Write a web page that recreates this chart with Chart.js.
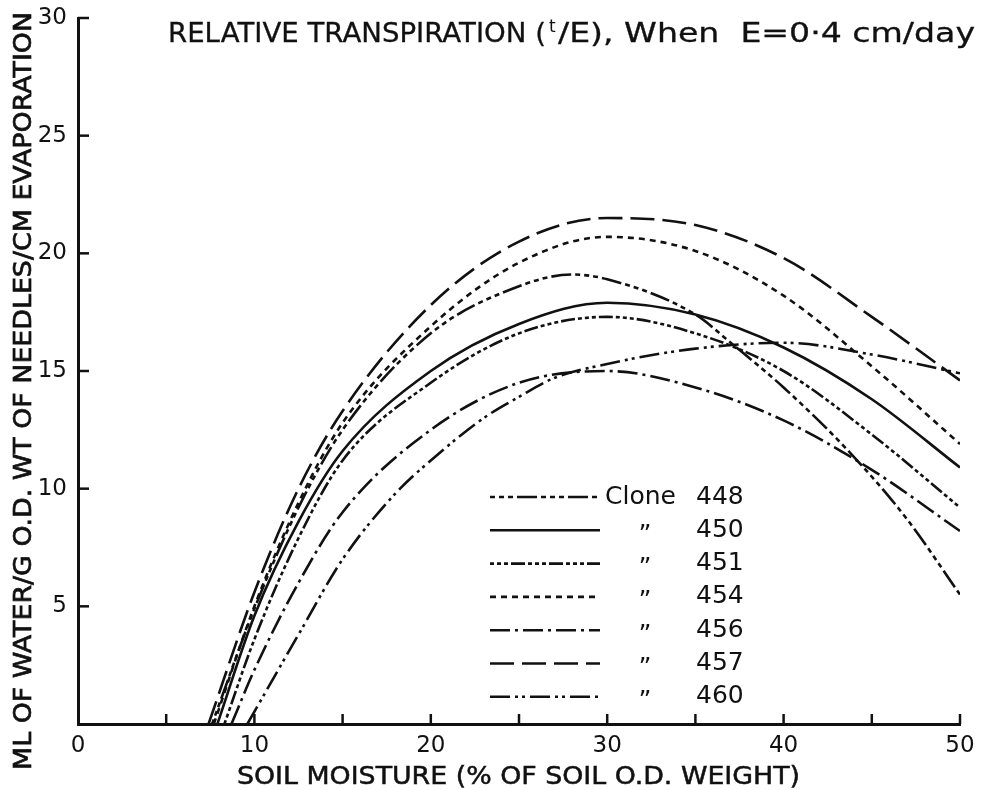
<!DOCTYPE html>
<html>
<head>
<meta charset="utf-8">
<script src="https://cdn.jsdelivr.net/npm/chart.js@4.4.0/dist/chart.umd.min.js"></script>
<style>
html, body { margin: 0; padding: 0; background: #fff; }
#wrap { width: 984px; height: 790px; }
</style>
</head>
<body>
<div id="wrap"><canvas id="graphCanvas" width="984" height="790"></canvas></div>
<script>
// soil moisture (x) and relative transpiration (y)
var clones = ["448", "450", "451", "454", "456", "457", "460"];

var x448 = [7.6, 10, 12.5, 15, 20, 25, 28, 30, 35, 37, 40, 43.8, 47, 50];
var y448 = [0, 4.9, 9.2, 12.5, 16.6, 18.6, 19.1, 18.9, 17.4, 16.2, 14.3, 11.5, 8.7, 5.5];

var x450 = [7.9, 10, 12.5, 15, 20, 25, 30, 35, 40, 45, 50];
var y450 = [0, 4.6, 8.6, 11.6, 15.0, 17.0, 17.9, 17.4, 16.0, 13.8, 10.9];

var x451 = [8.3, 10, 12.5, 15, 20, 25, 30, 35, 40, 45, 50];
var y451 = [0, 3.6, 7.9, 11.2, 14.5, 16.6, 17.3, 16.6, 15.0, 12.3, 9.2];

var x454 = [7.7, 10, 12.5, 15, 20, 25, 30, 35, 40, 45, 50];
var y454 = [0, 5.0, 9.4, 12.8, 16.9, 19.6, 20.7, 20.1, 18.2, 15.2, 11.9];

var x456 = [8.7, 10, 12.5, 15, 20, 25, 30, 35, 40, 45, 50];
var y456 = [0, 2.3, 6.0, 9.0, 12.5, 14.5, 15.0, 14.3, 12.9, 10.8, 8.2];

var x457 = [7.4, 10, 12.5, 15, 20, 25, 30, 35, 40, 45, 50];
var y457 = [0, 5.6, 10.0, 13.3, 17.8, 20.5, 21.5, 21.2, 19.8, 17.3, 14.6];

var x460 = [9.6, 12.5, 15, 18, 20, 23, 25, 27, 30, 35, 40, 45, 50];
var y460 = [0, 3.8, 7.0, 9.8, 11.2, 13.0, 13.9, 14.7, 15.3, 15.95, 16.2, 15.7, 14.9];

var xTickLabels = [0, 10, 20, 30, 40, 50];
var yTickLabels = [5, 10, 15, 20, 25, 30];

var xs = [x448, x450, x451, x454, x456, x457, x460];
var ys = [y448, y450, y451, y454, y456, y457, y460];

var dashes = [
  [5, 4, 5, 4, 5, 4, 20, 4],   // 448
  [],                          // 450
  [4, 3, 4, 3, 4, 3, 14, 3],   // 451
  [6, 5],                      // 454
  [20, 5, 3, 5],               // 456
  [24, 8],                     // 457
  [20, 5, 3, 4, 3, 5]          // 460
];

var FONT = "'DejaVu Sans', sans-serif";

var datasets = [];
for (var i = 0; i < clones.length; i++) {
  var pts = [];
  for (var j = 0; j < xs[i].length; j++) {
    pts.push({x: xs[i][j], y: ys[i][j]});
  }
  datasets.push({
    label: clones[i],
    data: pts,
    borderColor: '#111',
    borderWidth: 2.6,
    borderDash: dashes[i],
    pointRadius: 0,
    fill: false,
    cubicInterpolationMode: 'monotone'
  });
}

// text stretched horizontally to a given width, left edge at x, baseline at y
function stretchText(ctx, text, x, y, width, weight) {
  var w = ctx.measureText(text).width;
  ctx.save();
  ctx.translate(x, y);
  ctx.scale(width / w, 1);
  ctx.textAlign = 'left';
  ctx.lineWidth = weight;
  ctx.fillText(text, 0, 0);
  if (weight > 0) ctx.strokeText(text, 0, 0);
  ctx.restore();
}

var decor = {
  id: 'decor',
  afterDraw: function(chart) {
    var ctx = chart.ctx;
    var xs_ = chart.scales.x, ys_ = chart.scales.y;
    var area = chart.chartArea;
    ctx.save();
    ctx.strokeStyle = '#111';
    ctx.fillStyle = '#111';
    ctx.lineWidth = 2.5;
    ctx.setLineDash([]);

    // inward tick marks
    for (var v = 5; v <= 50; v += 5) {
      var px = xs_.getPixelForValue(v);
      ctx.beginPath(); ctx.moveTo(px, area.bottom); ctx.lineTo(px, area.bottom - 10); ctx.stroke();
    }
    for (var k = 0; k < yTickLabels.length; k++) {
      var py = ys_.getPixelForValue(yTickLabels[k]);
      ctx.beginPath(); ctx.moveTo(area.left, py); ctx.lineTo(area.left + 11, py); ctx.stroke();
    }

    // title
    ctx.textBaseline = 'alphabetic';
    ctx.font = '26px ' + FONT;
    stretchText(ctx, 'RELATIVE TRANSPIRATION (', 168, 42, 378, 0.3);
    ctx.font = '17px ' + FONT;
    ctx.textAlign = 'left';
    ctx.fillText('t', 549, 32);
    ctx.font = '26px ' + FONT;
    stretchText(ctx, '/E), When  E=0\u00b74 cm/day', 558, 42, 417, 0.3);

    // y axis title
    ctx.save();
    ctx.translate(31, 770);
    ctx.rotate(-Math.PI / 2);
    ctx.font = '25px ' + FONT;
    stretchText(ctx, 'ML OF WATER/G O.D. WT OF NEEDLES/CM EVAPORATION', 0, 0, 758, 0.7);
    ctx.restore();

    // x axis title
    ctx.font = '24px ' + FONT;
    stretchText(ctx, 'SOIL MOISTURE (% OF SOIL O.D. WEIGHT)', 237, 784, 563, 0.5);

    // legend
    ctx.font = '25px ' + FONT;
    ctx.textBaseline = 'middle';
    for (var r = 0; r < chart.data.datasets.length; r++) {
      var ds = chart.data.datasets[r];
      var ly = 497 + r * 33.3;
      ctx.save();
      ctx.lineWidth = ds.borderWidth;
      ctx.setLineDash(ds.borderDash);
      ctx.beginPath(); ctx.moveTo(490, ly); ctx.lineTo(600, ly); ctx.stroke();
      ctx.restore();
      ctx.textAlign = 'left';
      if (r === 0) {
        ctx.fillText('Clone', 605, ly);
      } else {
        ctx.textAlign = 'center';
        ctx.fillText('\u201d', 645, ly + 5);
        ctx.textAlign = 'left';
      }
      ctx.fillText(ds.label, 696, ly);
    }
    ctx.restore();
  }
};

var canvas = document.getElementById('graphCanvas').getContext('2d');

var chart = new Chart(canvas, {
  type: 'line',
  data: { datasets: datasets },
  options: {
    responsive: false,
    animation: false,
    devicePixelRatio: 1,
    layout: { padding: { top: 18, right: 24, left: 0, bottom: 0 } },
    plugins: { legend: { display: false }, tooltip: { enabled: false } },
    scales: {
      x: {
        type: 'linear', min: 0, max: 50,
        afterFit: function(s) { s.height = 66; s.paddingLeft = 0; s.paddingRight = 0; },
        border: { display: true, color: '#111', width: 3 },
        grid: { drawOnChartArea: false, drawTicks: false },
        ticks: {
          stepSize: 10, padding: 8, color: '#111', font: { family: FONT, size: 23 },
          callback: function(v) { return xTickLabels.indexOf(v) >= 0 ? v : ''; }
        }
      },
      y: {
        min: 0, max: 30,
        afterFit: function(s) { s.width = 78; s.paddingTop = 0; s.paddingBottom = 0; },
        border: { display: true, color: '#111', width: 3 },
        grid: { drawOnChartArea: false, drawTicks: false },
        ticks: {
          stepSize: 5, padding: 11, color: '#111', font: { family: FONT, size: 23 },
          callback: function(v) { return yTickLabels.indexOf(v) >= 0 ? v : ''; }
        }
      }
    }
  },
  plugins: [decor]
});
</script>
</body>
</html>
